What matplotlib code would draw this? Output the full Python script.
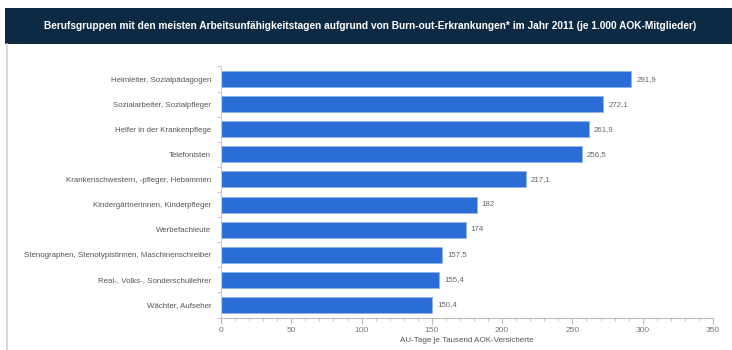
import matplotlib.pyplot as plt
from matplotlib.patches import Rectangle
from matplotlib.ticker import MultipleLocator

categories = [
    "Heimleiter, Sozialpädagogen",
    "Sozialarbeiter, Sozialpfleger",
    "Helfer in der Krankenpflege",
    "Telefonisten",
    "Krankenschwestern, -pfleger, Hebammen",
    "Kindergärtnerinnen, Kinderpfleger",
    "Werbefachleute",
    "Stenographen, Stenotypistinnen, Maschinenschreiber",
    "Real-, Volks-, Sonderschullehrer",
    "Wächter, Aufseher",
]
values = [291.9, 272.1, 261.9, 256.5, 217.1, 182, 174, 157.5, 155.4, 150.4]
value_labels = ["291,9", "272,1", "261,9", "256,5", "217,1", "182", "174", "157,5", "155,4", "150,4"]
x_ticks = [0, 50, 100, 150, 200, 250, 300, 350]

title = ("Berufsgruppen mit den meisten Arbeitsunfähigkeitstagen aufgrund von "
         "Burn-out-Erkrankungen* im Jahr 2011 (je 1.000 AOK-Mitglieder)")

W, H = 732, 350
fig = plt.figure(figsize=(W / 100, H / 100), dpi=100)
fig.patch.set_facecolor("white")

# header banner and panel frame
fig.patches.append(Rectangle((5 / W, 1 - 44 / H), 1, 36 / H, transform=fig.transFigure,
                             facecolor="#0d2a44", edgecolor="none"))
fig.add_artist(plt.Line2D([7 / W, 7 / W], [0, 1 - 44 / H], transform=fig.transFigure,
                          color="#c9d3dc", lw=1.2))
fig.text(0.5 + 4 / W, 1 - 26 / H, title, color="white", fontsize=7.3, fontweight="bold",
         ha="center", va="center", family="Liberation Sans")

ax = fig.add_axes([221 / W, 1 - 317.5 / H, (713 - 221) / W, (317.5 - 66.5) / H])
y = list(range(len(categories)))
ax.barh(y, values, height=0.64, color="#2a6dd6", edgecolor="#8fb3ea", linewidth=0.6)
ax.set_ylim(len(categories) - 0.5, -0.5)
ax.set_xlim(0, 350)

for yi, v, lab in zip(y, values, value_labels):
    ax.text(v + 3.5, yi, lab, va="center", ha="left", fontsize=5.7, color="#666666",
            family="Liberation Sans")

ax.set_yticks(y)
ax.set_yticklabels(categories, fontsize=5.7, color="#555555", family="Liberation Sans")
ax.set_yticks([i + 0.5 for i in range(-1, len(categories))], minor=True)
ax.tick_params(axis="y", which="major", length=0, pad=7)
ax.tick_params(axis="y", which="minor", length=3, color="#bbbbbb", left=True)

ax.set_xticks(x_ticks)
ax.xaxis.set_minor_locator(MultipleLocator(10))
ax.tick_params(axis="x", which="major", length=4, color="#bbbbbb", labelsize=6,
               labelcolor="#777777", pad=3)
ax.tick_params(axis="x", which="minor", length=2, color="#bbbbbb")
for lab in ax.get_xticklabels():
    lab.set_family("Liberation Sans")
ax.set_xlabel("AU-Tage je Tausend AOK-Versicherte", fontsize=5.8, color="#555555",
              family="Liberation Sans", labelpad=2)

for s in ["top", "right"]:
    ax.spines[s].set_visible(False)
ax.spines["left"].set_color("#cccccc")
ax.spines["bottom"].set_color("#bbbbbb")
ax.spines["left"].set_linewidth(0.8)
ax.spines["bottom"].set_linewidth(0.8)

fig.savefig("out.png", dpi=100)
plt.close(fig)
